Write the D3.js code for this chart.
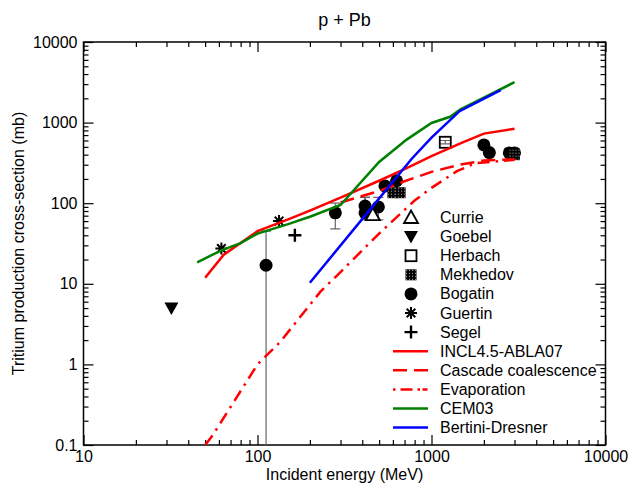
<!DOCTYPE html>
<html>
<head>
<meta charset="utf-8">
<script src="https://cdn.jsdelivr.net/npm/d3@7"></script>
<style>
  body { margin: 0; background: #fff; }
  text { font-family: "Liberation Sans", Arial, sans-serif; fill: #000; }
</style>
</head>
<body>
<svg id="chart"></svg>
<script>
// ---- data ----
const xTicks = [10, 100, 1000, 10000];
const yTicks = [0.1, 1, 10, 100, 1000, 10000];

// model curves: energy (MeV) / cross-section (mb)
const inclE = [50, 64, 100, 150, 200, 300, 500, 700, 1000, 1500, 2000, 3000];
const inclV = [11.9, 23, 45, 63, 81, 117, 190, 265, 385, 565, 730, 840];
const cascE = [300, 500, 700, 1000, 1500, 2000, 3000];
const cascV = [102, 142, 187, 245, 305, 338, 350];
const evapE = [50, 55, 100, 135, 230, 300, 400, 500, 800, 1000, 1400, 1800, 3000];
const evapV = [0.1, 0.13, 1.0, 1.9, 8, 14, 26, 42, 108, 155, 250, 315, 345];
const cemE = [45, 62, 80, 100, 150, 200, 300, 500, 720, 1000, 1280, 1460, 3000];
const cemV = [18.5, 26, 32, 42, 55, 68, 95, 325, 615, 990, 1180, 1450, 3170];
const bertE = [200, 460, 770, 1000, 1450, 2500];
const bertV = [10.3, 92, 356, 650, 1385, 2525];

// experimental points
const currieE = [460];
const currieV = [72];
const goebelE = [32];
const goebelV = [5.0];
const herbachE = [1200];
const herbachV = [570];
const herbachLo = [545];
const herbachHi = [600];
const mekhedovE = [600, 660, 3000];
const mekhedovV = [135, 135, 400];
const bogatinE = [112, 280, 415, 415, 495, 540, 630, 2000, 2150, 2800, 3000];
const bogatinV = [17, 76, 92, 76, 90, 164, 190, 528, 425, 420, 420];
const bogatinLo = [0.01, 48, 92, 62, 62, 164, 190, 528, 425, 350, 350];
const bogatinHi = [45, 100, 118, 118, 118, 164, 190, 528, 425, 480, 480];
const guertinE = [62, 133];
const guertinV = [27.4, 60];
const segelE = [164];
const segelV = [40];

class TritiumChart {
  constructor(_config) {
    this.config = {
      parentElement: _config.parentElement,
      containerWidth: 631,
      containerHeight: 485,
      margin: { top: 42, bottom: 40, right: 25.5, left: 83.5 }
    };
    this.initVis();
  }

  initVis() {
    let vis = this;
    const m = vis.config.margin;
    vis.width = vis.config.containerWidth - m.left - m.right;
    vis.height = vis.config.containerHeight - m.top - m.bottom;

    vis.svg = d3.select(vis.config.parentElement)
      .attr('width', vis.config.containerWidth)
      .attr('height', vis.config.containerHeight);

    // pattern for the Mekhedov squares
    const defs = vis.svg.append('defs');
    const pat = defs.append('pattern').attr('id', 'checker')
      .attr('width', 3).attr('height', 3).attr('patternUnits', 'userSpaceOnUse');
    pat.append('rect').attr('width', 3).attr('height', 3).attr('fill', '#000');
    pat.append('rect').attr('x', 1).attr('y', 1).attr('width', 1).attr('height', 1).attr('fill', '#bbb');
    defs.append('clipPath').attr('id', 'plotclip')
      .append('rect').attr('width', vis.width).attr('height', vis.height);

    vis.chart = vis.svg.append('g')
      .attr('transform', `translate(${m.left},${m.top})`);

    vis.xScale = d3.scaleLog().domain([10, 10000]).range([0, vis.width]);
    vis.yScale = d3.scaleLog().domain([0.1, 10000]).range([vis.height, 0]);

    vis.drawAxes();
    vis.drawPoints();
    vis.drawCurves();
    vis.drawLegend();

    // title and axis titles
    vis.svg.append('text')
      .attr('x', m.left + vis.width / 2).attr('y', 26)
      .attr('text-anchor', 'middle').attr('font-size', 18)
      .text('p + Pb');
    vis.svg.append('text')
      .attr('x', m.left + vis.width / 2).attr('y', 480)
      .attr('text-anchor', 'middle').attr('font-size', 16)
      .text('Incident energy (MeV)');
    vis.svg.append('text')
      .attr('transform', `translate(24,${m.top + vis.height / 2}) rotate(-90)`)
      .attr('text-anchor', 'middle').attr('font-size', 16)
      .text('Tritium production cross-section (mb)');
  }

  drawAxes() {
    let vis = this;
    const minors = [];
    [10, 100, 1000].forEach(d => { for (let k = 2; k <= 9; k++) minors.push(d * k); });
    const yMinors = [];
    [0.1, 1, 10, 100, 1000].forEach(d => { for (let k = 2; k <= 9; k++) yMinors.push(d * k); });

    const fmt = d3.format('~g');
    const styleAxis = g => {
      g.select('.domain').remove();
      g.selectAll('line').attr('stroke', '#000').attr('stroke-width', 1.2);
      g.selectAll('text').attr('font-size', 16).attr('fill', '#000')
        .attr('font-family', '"Liberation Sans", Arial, sans-serif');
    };

    // bottom
    vis.chart.append('g').attr('transform', `translate(0,${vis.height})`)
      .call(d3.axisBottom(vis.xScale).tickValues(xTicks).tickSize(-10).tickSizeOuter(0).tickPadding(6).tickFormat(fmt))
      .call(styleAxis);
    vis.chart.append('g').attr('transform', `translate(0,${vis.height})`)
      .call(d3.axisBottom(vis.xScale).tickValues(minors).tickSize(-5).tickSizeOuter(0).tickFormat(''))
      .call(styleAxis);
    // top
    vis.chart.append('g')
      .call(d3.axisTop(vis.xScale).tickValues(xTicks).tickSize(-10).tickSizeOuter(0).tickFormat(''))
      .call(styleAxis);
    vis.chart.append('g')
      .call(d3.axisTop(vis.xScale).tickValues(minors).tickSize(-5).tickSizeOuter(0).tickFormat(''))
      .call(styleAxis);
    // left
    vis.chart.append('g')
      .call(d3.axisLeft(vis.yScale).tickValues(yTicks).tickSize(-10).tickSizeOuter(0).tickPadding(6).tickFormat(fmt))
      .call(styleAxis);
    vis.chart.append('g')
      .call(d3.axisLeft(vis.yScale).tickValues(yMinors).tickSize(-5).tickSizeOuter(0).tickFormat(''))
      .call(styleAxis);
    // right
    vis.chart.append('g').attr('transform', `translate(${vis.width},0)`)
      .call(d3.axisRight(vis.yScale).tickValues(yTicks).tickSize(-10).tickSizeOuter(0).tickFormat(''))
      .call(styleAxis);
    vis.chart.append('g').attr('transform', `translate(${vis.width},0)`)
      .call(d3.axisRight(vis.yScale).tickValues(yMinors).tickSize(-5).tickSizeOuter(0).tickFormat(''))
      .call(styleAxis);

    // frame
    vis.chart.append('rect')
      .attr('width', vis.width).attr('height', vis.height)
      .attr('fill', 'none').attr('stroke', '#000').attr('stroke-width', 1.5);
  }

  drawCurves() {
    let vis = this;
    const line = d3.line().x(d => vis.xScale(d[0])).y(d => vis.yScale(d[1]));
    const curves = [
      { e: inclE, v: inclV, color: '#ff0000', dash: null },
      { e: cascE, v: cascV, color: '#ff0000', dash: '14,7' },
      { e: evapE, v: evapV, color: '#ff0000', dash: '12,6,2.5,6' },
      { e: cemE, v: cemV, color: '#008000', dash: null },
      { e: bertE, v: bertV, color: '#0000ff', dash: null }
    ];
    const g = vis.chart.append('g').attr('clip-path', 'url(#plotclip)');
    curves.forEach(c => {
      g.append('path')
        .datum(d3.zip(c.e, c.v))
        .attr('d', line)
        .attr('fill', 'none')
        .attr('stroke', c.color)
        .attr('stroke-width', 2.5)
        .attr('stroke-dasharray', c.dash);
    });
  }

  marker(g, type, x, y) {
    const s = g.append('g').attr('transform', `translate(${x},${y})`);
    if (type === 'currie') {
      s.append('path').attr('d', 'M0,-7L7,5.5L-7,5.5Z')
        .attr('fill', '#fff').attr('stroke', '#000').attr('stroke-width', 1.8);
    } else if (type === 'goebel') {
      s.append('path').attr('d', 'M-7,-5.5L7,-5.5L0,7Z').attr('fill', '#000');
    } else if (type === 'herbach') {
      s.append('rect').attr('x', -5.5).attr('y', -5.5).attr('width', 11).attr('height', 11)
        .attr('fill', 'none').attr('stroke', '#000').attr('stroke-width', 1.8);
    } else if (type === 'mekhedov') {
      s.append('rect').attr('x', -5.5).attr('y', -5.5).attr('width', 11).attr('height', 11)
        .attr('fill', 'url(#checker)');
    } else if (type === 'bogatin') {
      s.append('circle').attr('r', 6.5).attr('fill', '#000');
    } else if (type === 'guertin') {
      s.append('path').attr('d', 'M0,-6V6M-6,0H6M-4.3,-4.3L4.3,4.3M-4.3,4.3L4.3,-4.3')
        .attr('stroke', '#000').attr('stroke-width', 2);
    } else if (type === 'segel') {
      s.append('path').attr('d', 'M0,-6.5V6.5M-6.5,0H6.5')
        .attr('stroke', '#000').attr('stroke-width', 2.4);
    }
  }

  drawPoints() {
    let vis = this;
    const x = vis.xScale, y = vis.yScale;
    const g = vis.chart.append('g').attr('clip-path', 'url(#plotclip)');

    // error bars
    const bars = [];
    bogatinE.forEach((e, i) => bars.push([e, bogatinLo[i], bogatinHi[i]]));
    herbachE.forEach((e, i) => bars.push([e, herbachLo[i], herbachHi[i]]));
    bars.filter(b => b[1] !== b[2]).forEach(b => {
      const cx = x(b[0]);
      g.append('line').attr('x1', cx).attr('x2', cx)
        .attr('y1', y(Math.max(b[1], 0.01))).attr('y2', y(b[2]))
        .attr('stroke', '#666').attr('stroke-width', 1.2);
      [b[1], b[2]].filter(v => v > 0.1).forEach(v => {
        g.append('line').attr('x1', cx - 5).attr('x2', cx + 5)
          .attr('y1', y(v)).attr('y2', y(v))
          .attr('stroke', '#666').attr('stroke-width', 1.2);
      });
    });

    const sets = [
      ['bogatin', bogatinE, bogatinV],
      ['mekhedov', mekhedovE, mekhedovV],
      ['herbach', herbachE, herbachV],
      ['currie', currieE, currieV],
      ['goebel', goebelE, goebelV],
      ['guertin', guertinE, guertinV],
      ['segel', segelE, segelV]
    ];
    sets.forEach(([type, es, vs]) => {
      es.forEach((e, i) => vis.marker(g, type, x(e), y(vs[i])));
    });
  }

  drawLegend() {
    let vis = this;
    const lg = vis.svg.append('g');
    const labels = ['Currie', 'Goebel', 'Herbach', 'Mekhedov', 'Bogatin', 'Guertin', 'Segel'];
    const types = ['currie', 'goebel', 'herbach', 'mekhedov', 'bogatin', 'guertin', 'segel'];
    const lineLabels = ['INCL4.5-ABLA07', 'Cascade coalescence', 'Evaporation', 'CEM03', 'Bertini-Dresner'];
    const lineColors = ['#ff0000', '#ff0000', '#ff0000', '#008000', '#0000ff'];
    const lineDash = [null, '14,7', '12,6,2.5,6', null, null];
    const y0 = 217.5, dy = 19.1;

    labels.forEach((t, i) => {
      const yy = y0 + i * dy;
      vis.marker(lg, types[i], 411, yy);
      lg.append('text').attr('x', 440).attr('y', yy + 5.5).attr('font-size', 16).text(t);
    });
    lineLabels.forEach((t, i) => {
      const yy = y0 + (labels.length + i) * dy;
      lg.append('line').attr('x1', 393).attr('x2', 428).attr('y1', yy).attr('y2', yy)
        .attr('stroke', lineColors[i]).attr('stroke-width', 2.5)
        .attr('stroke-dasharray', i === 2 ? '2.5,5,12,5,2.5' : lineDash[i]);
      lg.append('text').attr('x', 440).attr('y', yy + 5.5).attr('font-size', 16).text(t);
    });
  }
}

new TritiumChart({ parentElement: '#chart' });
</script>
</body>
</html>
